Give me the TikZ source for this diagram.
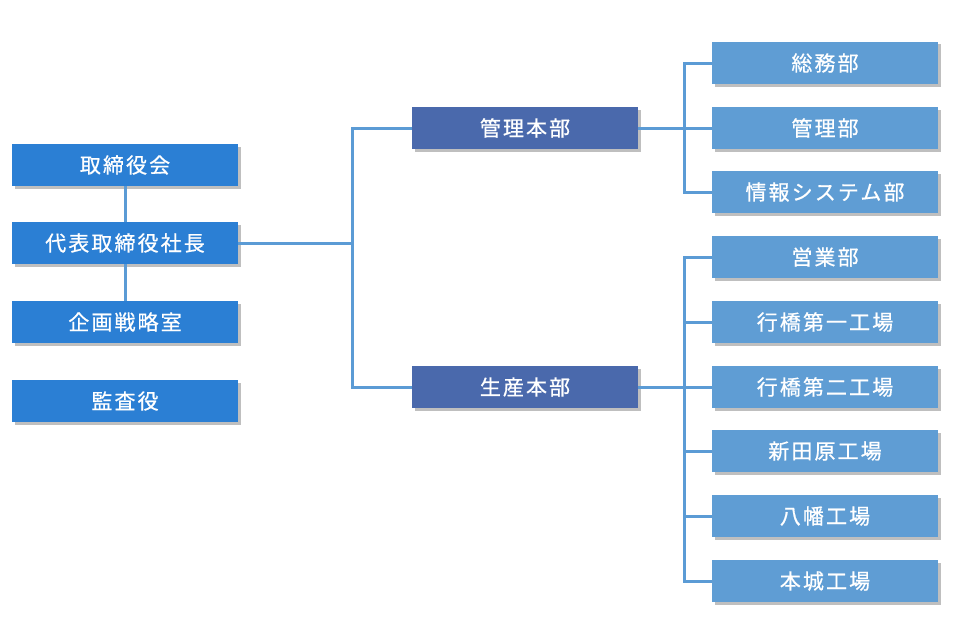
\documentclass[tikz,border=0pt]{standalone}
\usepackage{fontspec}
\newfontfamily\jp[FakeBold=0.7,LetterSpace=10]{Noto Sans CJK JP}
\usetikzlibrary{shadows}
\definecolor{topblue}{RGB}{43,127,212}
\definecolor{midblue}{RGB}{74,105,172}
\definecolor{subblue}{RGB}{95,157,212}
\definecolor{lineblue}{RGB}{91,155,213}
\tikzset{
  box/.style={minimum width=226pt, minimum height=42pt, inner sep=0pt, text=white,
    font=\jp\fontsize{21}{24}\selectfont,
    drop shadow={shadow xshift=2.5pt, shadow yshift=-2.5pt, fill=black, opacity=0.25}},
  topbox/.style={box, fill=topblue},
  midbox/.style={box, fill=midblue},
  subbox/.style={box, fill=subblue},
  conn/.style={draw=lineblue, line width=3pt}
}
\begin{document}
\begin{tikzpicture}[x=1pt,y=-1pt]
\useasboundingbox (0,0) rectangle (957,642);
% left column
\node[topbox] (board) at (125,165) {取締役会};
\node[topbox] (ceo) at (125,243) {代表取締役社長};
\node[topbox] (plan) at (125,322) {企画戦略室};
\node[topbox] (audit) at (125,401) {監査役};
% middle
\node[midbox] (kanri) at (525,128) {管理本部};
\node[midbox] (seisan) at (525,387) {生産本部};
% right
\node[subbox] (soumu) at (825,63) {総務部};
\node[subbox] (kanribu) at (825,128) {管理部};
\node[subbox] (joho) at (825,192) {情報システム部};
\node[subbox] (eigyo) at (825,257) {営業部};
\node[subbox] (yk1) at (825,322) {行橋第一工場};
\node[subbox] (yk2) at (825,387) {行橋第二工場};
\node[subbox] (nyu) at (825,451) {新田原工場};
\node[subbox] (yahata) at (825,516) {八幡工場};
\node[subbox] (honjo) at (825,581) {本城工場};
% connectors
\draw[conn] (board.south) -- (ceo.north);
\draw[conn] (ceo.south) -- (plan.north);
\coordinate (jx) at (352,243);
\draw[conn] (ceo.east) -- (jx);
\draw[conn] (kanri.west) -| (jx) |- (seisan.west);
\coordinate (kx) at (684,128);
\draw[conn] (kanri.east) -- (kanribu.west);
\draw[conn] (soumu.west) -| (kx) |- (joho.west);
\coordinate (sx) at (684,387);
\draw[conn] (seisan.east) -- (yk2.west);
\draw[conn] (eigyo.west) -| (sx) |- (honjo.west);
\foreach \n in {yk1,nyu,yahata}{\draw[conn] (\n.west) -- (\n.west -| sx);}
\end{tikzpicture}
\end{document}
